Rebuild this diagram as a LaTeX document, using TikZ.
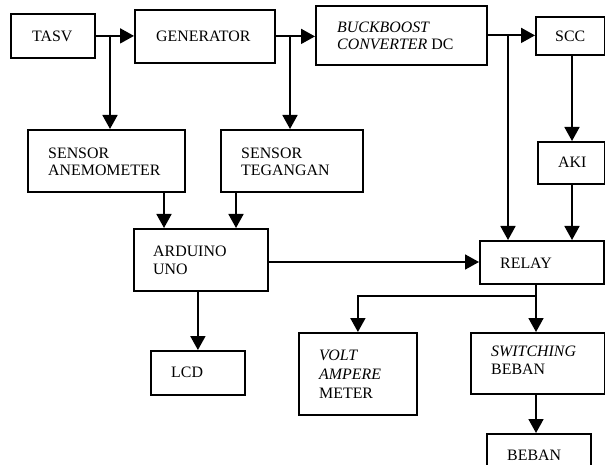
\documentclass[tikz,border=0pt]{standalone}
\usepackage{fontspec}
\setmainfont{Liberation Serif}
\usetikzlibrary{arrows.meta,calc}
\tikzset{
 box/.style={draw, line width=1.8pt, anchor=north west, inner sep=0pt},
 lbl/.style={anchor=base west, inner sep=0pt, align=left, font=\fontsize{15.9}{17.5}\selectfont},
 arr/.style={line width=1.8pt, -{Triangle[length=14pt,width=15pt]}},
 ln/.style={line width=1.8pt},
}
\begin{document}
\begin{tikzpicture}[x=1pt,y=-1pt]
\clip (0,0) rectangle (605,465);
% boxes
\node[box, minimum width=84pt, minimum height=44pt] (tasv) at (10,13) {};
\node[box, minimum width=140pt, minimum height=53pt] (gen) at (134,9) {};
\node[box, minimum width=171pt, minimum height=59pt] (buck) at (315,5) {};
\node[box, minimum width=69pt, minimum height=38pt] (scc) at (535,16) {};
\node[box, minimum width=157pt, minimum height=62pt] (anem) at (27,129) {};
\node[box, minimum width=142pt, minimum height=62pt] (teg) at (220,129) {};
\node[box, minimum width=67pt, minimum height=42pt] (aki) at (537,141) {};
\node[box, minimum width=134pt, minimum height=62pt] (ard) at (133,228) {};
\node[box, minimum width=124pt, minimum height=43pt] (relay) at (479,240) {};
\node[box, minimum width=94pt, minimum height=44pt] (lcd) at (150,350) {};
\node[box, minimum width=118pt, minimum height=82pt] (volt) at (298,332) {};
\node[box, minimum width=134pt, minimum height=61pt] (sw) at (470,332) {};
\node[box, minimum width=104pt, minimum height=45pt] (beban) at (486,433) {};
% labels (anchor = baseline of last line)
\node[lbl] (ttasv) at (32,42) {TASV};
\node[lbl] (tgen) at (156,42) {GENERATOR};
\node[lbl] (tbuck) at (337,50) {\textit{BUCKBOOST}\\\textit{CONVERTER} DC};
\node[lbl] (tscc) at (555,42) {SCC};
\node[lbl] (tanem) at (48,176) {SENSOR\\ANEMOMETER};
\node[lbl] (tteg) at (241,176) {SENSOR\\TEGANGAN};
\node[lbl] (taki) at (558,168) {AKI};
\node[lbl] (tard) at (153,274) {ARDUINO\\UNO};
\node[lbl] (trelay) at (500,268) {RELAY};
\node[lbl] (tlcd) at (171,377) {LCD};
\node[lbl, font=\fontsize{15.9}{19}\selectfont] (tvolt) at (319,398) {\textit{VOLT}\\\textit{AMPERE}\\METER};
\node[lbl] (tsw) at (491,374) {\textit{SWITCHING}\\BEBAN};
\node[lbl] (tbeban) at (507,460) {BEBAN};
% connectors
\draw[arr] (tasv.east) -- (tasv.east -| gen.west);
\coordinate (j1) at (110,35);
\draw[arr] (j1) -- (j1 |- anem.north);
\draw[arr] (gen.east) -- (gen.east -| buck.west);
\coordinate (j2) at (290,35.5);
\draw[arr] (j2) -- (j2 |- teg.north);
\draw[arr] (buck.east) -- (buck.east -| scc.west);
\coordinate (j3) at (508,34.5);
\draw[arr] (j3) -- (j3 |- relay.north);
\coordinate (j4) at (572,0);
\draw[arr] (j4 |- scc.south) -- (j4 |- aki.north);
\draw[arr] (j4 |- aki.south) -- (j4 |- relay.north);
\coordinate (j5) at (164,0);
\draw[arr] (j5 |- anem.south) -- (j5 |- ard.north);
\coordinate (j6) at (236,0);
\draw[arr] (j6 |- teg.south) -- (j6 |- ard.north);
\coordinate (j7) at (0,262);
\draw[arr] (ard.east |- j7) -- (relay.west |- j7);
\draw[arr] (lcd.north |- ard.south) -- (lcd.north);
\coordinate (j8) at (536,296);
\draw[ln] (j8 |- relay.south) -- (j8);
\draw[arr] (j8) -| (volt.north);
\draw[arr] (j8) -- (j8 |- sw.north);
\draw[arr] (j8 |- sw.south) -- (j8 |- beban.north);
\end{tikzpicture}
\end{document}
